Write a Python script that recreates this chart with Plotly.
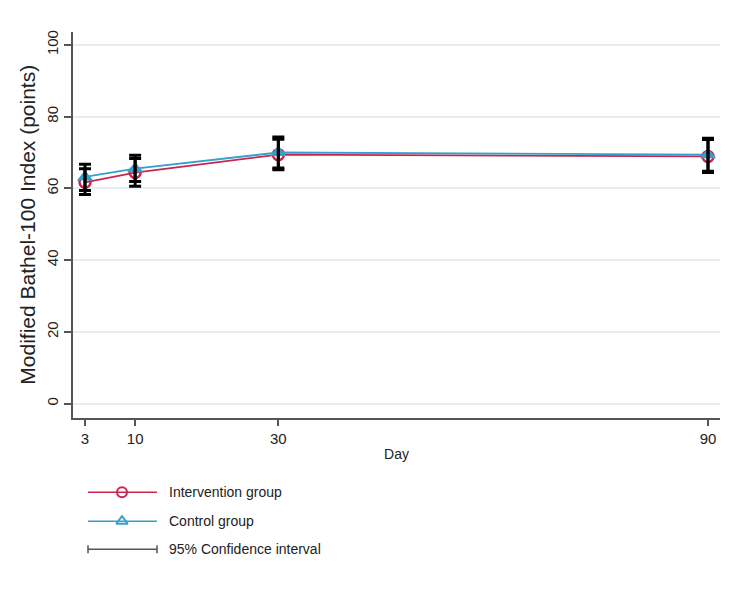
import plotly.graph_objects as go

# ---- data ----
days = [3, 10, 30, 90]
intervention_mean = [61.7, 64.4, 69.4, 68.9]
intervention_lo = [58.3, 60.6, 65.2, 64.4]
intervention_hi = [65.5, 68.3, 73.7, 73.6]
control_mean = [63.2, 65.5, 70.0, 69.4]
control_lo = [59.4, 61.9, 65.7, 64.8]
control_hi = [66.7, 69.2, 74.3, 74.0]
y_ticks = [0, 20, 40, 60, 80, 100]
legend_labels = ["Intervention group", "Control group", "95% Confidence interval"]

RED = "#c9264f"
BLUE = "#35a0cc"
W, H = 729, 590
FONT = "Liberation Sans, Arial, sans-serif"

fig = go.Figure()

# lines + markers
fig.add_trace(go.Scatter(x=days, y=intervention_mean, mode="lines+markers",
                         line=dict(color=RED, width=1.8),
                         marker=dict(symbol="circle-open", size=11, color=RED, line=dict(width=2.5, color=RED)),
                         showlegend=False))
fig.add_trace(go.Scatter(x=days, y=control_mean, mode="lines+markers",
                         line=dict(color=BLUE, width=1.8),
                         marker=dict(symbol="triangle-up", size=14, color=BLUE),
                         showlegend=False))

# CI bars on top
for mean, lo, hi in [(intervention_mean, intervention_lo, intervention_hi),
                     (control_mean, control_lo, control_hi)]:
    fig.add_trace(go.Scatter(x=days, y=mean, mode="markers",
                             marker=dict(size=1, opacity=0),
                             error_y=dict(type="data", symmetric=False,
                                          array=[h - m for h, m in zip(hi, mean)],
                                          arrayminus=[m - l for m, l in zip(mean, lo)],
                                          color="black", thickness=3, width=6),
                             showlegend=False, hoverinfo="skip"))

# ---- manual legend on pixel-scaled axes below the plot ----
LEG_TOP, LEG_BOT = 470, 570
rows = [492, 521, 549]
lx0, lx1, lxm, tx = 88, 157, 122, 167
fig.add_trace(go.Scatter(x=[lx0, lx1], y=[rows[0]] * 2, mode="lines", line=dict(color=RED, width=1.5),
                         xaxis="x2", yaxis="y2", showlegend=False, hoverinfo="skip"))
fig.add_trace(go.Scatter(x=[lxm], y=[rows[0]], mode="markers",
                         marker=dict(symbol="circle-open", size=10, color=RED, line=dict(width=2)),
                         xaxis="x2", yaxis="y2", showlegend=False, hoverinfo="skip"))
fig.add_trace(go.Scatter(x=[lx0, lx1], y=[rows[1]] * 2, mode="lines", line=dict(color=BLUE, width=1.5),
                         xaxis="x2", yaxis="y2", showlegend=False, hoverinfo="skip"))
fig.add_trace(go.Scatter(x=[lxm], y=[rows[1]], mode="markers",
                         marker=dict(symbol="triangle-up-open", size=10, color=BLUE, line=dict(width=2)),
                         xaxis="x2", yaxis="y2", showlegend=False, hoverinfo="skip"))
fig.add_trace(go.Scatter(x=[lx0, lx1, None, lx0, lx0, None, lx1, lx1],
                         y=[rows[2], rows[2], None, rows[2] - 4, rows[2] + 4, None, rows[2] - 4, rows[2] + 4],
                         mode="lines", line=dict(color="#555555", width=1.5),
                         xaxis="x2", yaxis="y2", showlegend=False, hoverinfo="skip"))
for r, lab in zip(rows, legend_labels):
    fig.add_annotation(x=tx, y=r, xref="x2", yref="y2", text=lab, showarrow=False,
                       xanchor="left", yanchor="middle", font=dict(size=14, color="#222222", family=FONT))

px_per_day = (708 - 85) / (90 - 3)
x_lo = 3 - (85 - 73) / px_per_day
x_hi = 90 + (720 - 708) / px_per_day
px_per_pt = (403 - 43) / 100
y_lo = 0 - (417 - 403) / px_per_pt
y_hi = 100 + (43 - 30) / px_per_pt

fig.update_layout(
    width=W, height=H,
    margin=dict(l=0, r=0, t=0, b=0),
    paper_bgcolor="white", plot_bgcolor="white",
    font=dict(family=FONT, color="#222222"),
    xaxis=dict(domain=[73 / W, 720 / W], range=[x_lo, x_hi], tickvals=days,
               showgrid=False, zeroline=False, showline=True, linecolor="#555555", linewidth=1.5,
               ticks="outside", ticklen=7, tickcolor="#555555", tickwidth=1.5,
               tickfont=dict(size=15), title=dict(text="Day", font=dict(size=14), standoff=3)),
    yaxis=dict(domain=[(H - 417) / H, (H - 30) / H], range=[y_lo, y_hi], tickvals=y_ticks,
               showgrid=True, gridcolor="#e6eef2", gridwidth=1.5, zeroline=False,
               showline=True, linecolor="#555555", linewidth=1.5,
               ticks="outside", ticklen=7, tickcolor="#555555", tickwidth=1.5, tickangle=-90,
               tickfont=dict(size=15),
               title=dict(text="Modified Bathel-100 Index (points)", font=dict(size=21), standoff=3)),
    xaxis2=dict(domain=[0, 1], range=[0, W], visible=False, fixedrange=True, anchor="y2"),
    yaxis2=dict(domain=[(H - LEG_BOT) / H, (H - LEG_TOP) / H], range=[LEG_BOT, LEG_TOP],
                visible=False, fixedrange=True, anchor="x2"),
)

fig.write_html("out.html")
